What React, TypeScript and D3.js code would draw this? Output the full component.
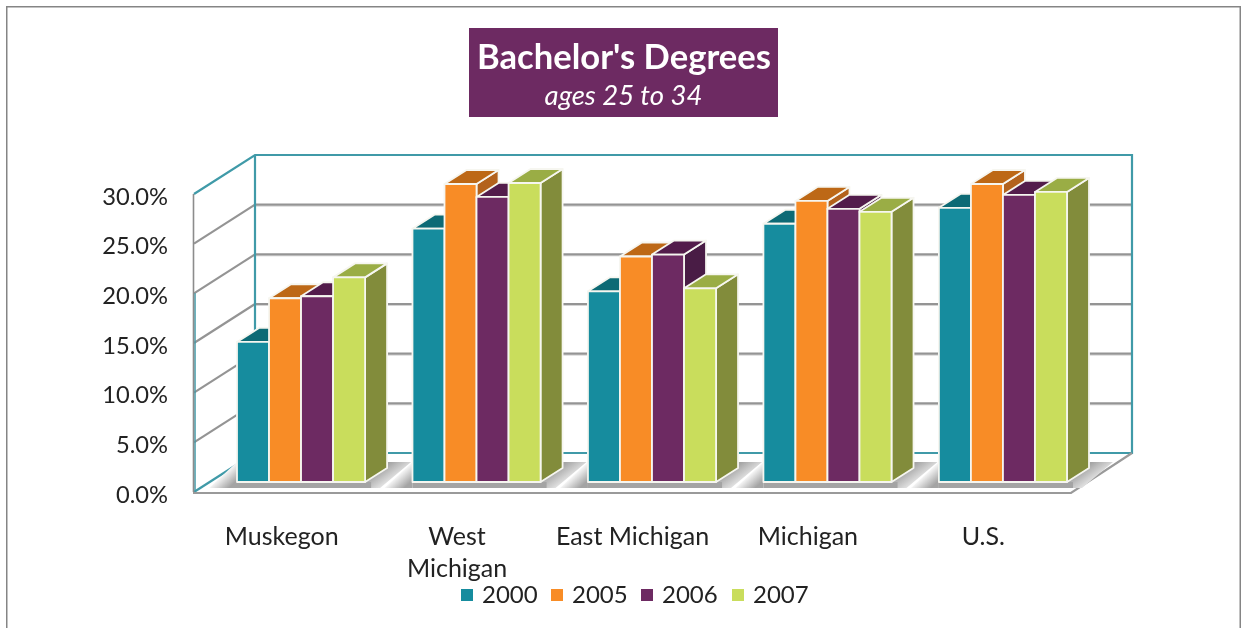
import * as d3 from "d3";

const categories = ["Muskegon", "West Michigan", "East Michigan", "Michigan", "U.S."];
const categoryLines = [["Muskegon"], ["West", "Michigan"], ["East Michigan"], ["Michigan"], ["U.S."]];
const seriesNames = ["2000", "2005", "2006", "2007"];
const values2000 = [14.1, 25.5, 19.2, 26.0, 27.6];
const values2005 = [18.5, 30.0, 22.7, 28.3, 30.0];
const values2006 = [18.7, 28.7, 22.9, 27.5, 28.9];
const values2007 = [20.6, 30.1, 19.5, 27.2, 29.2];
const tickValues = [0, 5, 10, 15, 20, 25, 30];

const frontColors = ["#178c9e", "#f88c28", "#6d2a62", "#c9dd5c"];
const topColors = ["#0f6a75", "#bd6818", "#531f4b", "#9aad45"];
const sideColors = ["#0f6a75", "#b3621a", "#4a1c45", "#828c3a"];
const legendX = [461, 551, 641, 732];

const seriesValues = [values2000, values2005, values2006, values2007];

const width = 1243;
const height = 628;
const wallDy = -39;
const barDx = 22;
const barDy = -14;
const font = "Lato, 'Open Sans', sans-serif";

// front edge of the floor, used for the labels
const xFloor = d3.scaleBand().domain(categories).range([194, 1071]);
const xGroup = d3.scaleBand().domain(categories).range([237, 1067]).paddingInner(0.27);
const xBar = d3.scaleBand().domain(seriesNames).range([0, xGroup.bandwidth()]);

const yBack = d3.scaleLinear().domain([0, 30]).range([453, 155]);
const yBar = d3.scaleLinear().domain([0, 30]).range([482, 184]);
const yFront = (v: number) => yBack(v) - wallDy;

const poly = (pts: [number, number][]) => {
  const p = d3.path();
  pts.forEach(([x, y], i) => (i ? p.lineTo(x, y) : p.moveTo(x, y)));
  p.closePath();
  return p.toString();
};

function Bar({ x, w, value, s }: { x: number; w: number; value: number; s: number }) {
  const y0 = yBar(0);
  const y1 = yBar(value);
  const edge = { stroke: "#f6f6f0", strokeWidth: 1.8, strokeLinejoin: "round" as const };
  return (
    <g>
      <path
        d={poly([[x + w, y1], [x + w + barDx, y1 + barDy], [x + w + barDx, y0 + barDy], [x + w, y0]])}
        fill={sideColors[s]}
        {...edge}
      />
      <path
        d={poly([[x, y1], [x + barDx, y1 + barDy], [x + w + barDx, y1 + barDy], [x + w, y1]])}
        fill={topColors[s]}
        {...edge}
      />
      <rect x={x} y={y1} width={w} height={y0 - y1} fill={frontColors[s]} {...edge} />
    </g>
  );
}

function Shadow({ id, x, w }: { id: string; x: number; w: number }) {
  const grey = "#a4a4a4";
  const y0 = yBar(0);
  const right = x + w;
  return (
    <g>
      <defs>
        <linearGradient
          id={`${id}-l`}
          gradientUnits="userSpaceOnUse"
          x1={x - 5}
          y1={y0 + 3}
          x2={x - 15}
          y2={y0 - 8}
        >
          <stop offset="0" stopColor={grey} />
          <stop offset="1" stopColor="#fff" />
        </linearGradient>
        <linearGradient
          id={`${id}-r`}
          gradientUnits="userSpaceOnUse"
          x1={right + 17}
          y1={y0 - 14}
          x2={right + 30}
          y2={y0 + 4}
        >
          <stop offset="0" stopColor={grey} />
          <stop offset="1" stopColor="#fff" />
        </linearGradient>
      </defs>
      <path d={poly([[x, y0 - 20], [x, y0 + 6], [x - 28, y0 + 6]])} fill={`url(#${id}-l)`} />
      <path
        d={poly([
          [right, y0],
          [right + barDx, y0 + barDy],
          [right + barDx, y0 - 20],
          [right + 46, y0 - 20],
          [right + 15, y0 + 6],
          [right, y0 + 6],
        ])}
        fill={`url(#${id}-r)`}
      />
      <rect x={x} y={y0} width={w + 6} height={6} fill={grey} />
    </g>
  );
}

export default function App() {
  const wallTeal = "#3f9aa8";
  const gridGrey = "#949494";
  return (
    <svg
      width={width}
      height={height}
      viewBox={`0 0 ${width} ${height}`}
      style={{ position: "absolute", left: 0, top: 0, display: "block" }}
      fontFamily={font}
    >
      <defs>
        <filter id="soft" x="0" y="0" width="100%" height="100%">
          <feGaussianBlur stdDeviation="0.45" />
        </filter>
      </defs>
      <rect width={width} height={height} fill="#fff" />

      <g filter="url(#soft)">
        {/* page frame */}
        <path d="M6,628V6H1241V628" fill="none" stroke="#858585" strokeWidth={3} />

        {/* title box */}
        <rect x={469} y={28} width={309} height={89} fill="#6d2a62" />
        <text x={624} y={69} textAnchor="middle" fontSize={34.6} fontWeight={700} fill="#fff">
          Bachelor's Degrees
        </text>
        <text x={623.5} y={105} textAnchor="middle" fontSize={27.5} fontStyle="italic" fill="#fff">
          ages 25 to 34
        </text>

        {/* gridlines on both walls */}
        {tickValues.slice(1, -1).map((t) => (
          <g key={t} fill="none">
            <line x1={255} x2={1132} y1={yBack(t) + 1.5} y2={yBack(t) + 1.5} stroke="#d4d4d4" strokeWidth={1} />
            <line x1={255} x2={1132} y1={yBack(t)} y2={yBack(t)} stroke={gridGrey} strokeWidth={2.2} />
            <line x1={194} x2={255} y1={yFront(t)} y2={yBack(t)} stroke={gridGrey} strokeWidth={2.2} />
          </g>
        ))}

        {/* walls */}
        <g fill="none" stroke={wallTeal} strokeWidth={2.2}>
          <path d={`M194,${yFront(30)}L255,${yBack(30)}H1132V${yBack(0)}H255V${yBack(30)}`} />
          <line x1={194} y1={yFront(0)} x2={255} y2={yBack(0)} />
          <line x1={195} x2={195} y1={yFront(20)} y2={yFront(0)} strokeWidth={1.5} />
        </g>
        <line x1={193.5} x2={193.5} y1={yFront(30)} y2={yFront(0)} stroke="#8c8c8c" strokeWidth={1.6} />

        {/* floor front edge */}
        <path
          d={`M193,${yFront(0) + 1}H1071L1132,${yBack(0)}`}
          fill="none"
          stroke="#9a9a9a"
          strokeWidth={2.2}
        />

        {/* shadows under the groups */}
        {categories.map((c, i) => (
          <Shadow key={c} id={`shadow-${i}`} x={xGroup(c)!} w={xGroup.bandwidth()} />
        ))}

        {/* bars */}
        {categories.map((c, i) => (
          <g key={c}>
            {seriesNames.map((n, s) => (
              <Bar
                key={n}
                x={xGroup(c)! + xBar(n)!}
                w={xBar.bandwidth()}
                value={seriesValues[s][i]}
                s={s}
              />
            ))}
          </g>
        ))}

        {/* y axis labels */}
        {tickValues.map((t) => (
          <text key={t} x={168} y={yFront(t) + 10.5} textAnchor="end" fontSize={23.7} fill="#222">
            {d3.format(".1f")(t)}%
          </text>
        ))}

        {/* category labels */}
        {categories.map((c, i) => (
          <text
            key={c}
            x={xFloor(c)! + xFloor.bandwidth() / 2}
            y={545}
            textAnchor="middle"
            fontSize={25}
            fill="#222"
          >
            {categoryLines[i].map((line, j) => (
              <tspan key={line} x={xFloor(c)! + xFloor.bandwidth() / 2} dy={j ? 32 : 0}>
                {line}
              </tspan>
            ))}
          </text>
        ))}

        {/* legend */}
        {seriesNames.map((n, s) => (
          <g key={n}>
            <rect x={legendX[s]} y={589} width={12} height={12} fill={frontColors[s]} />
            <text x={legendX[s] + 21} y={603} fontSize={24} fill="#222">
              {n}
            </text>
          </g>
        ))}
      </g>
    </svg>
  );
}
